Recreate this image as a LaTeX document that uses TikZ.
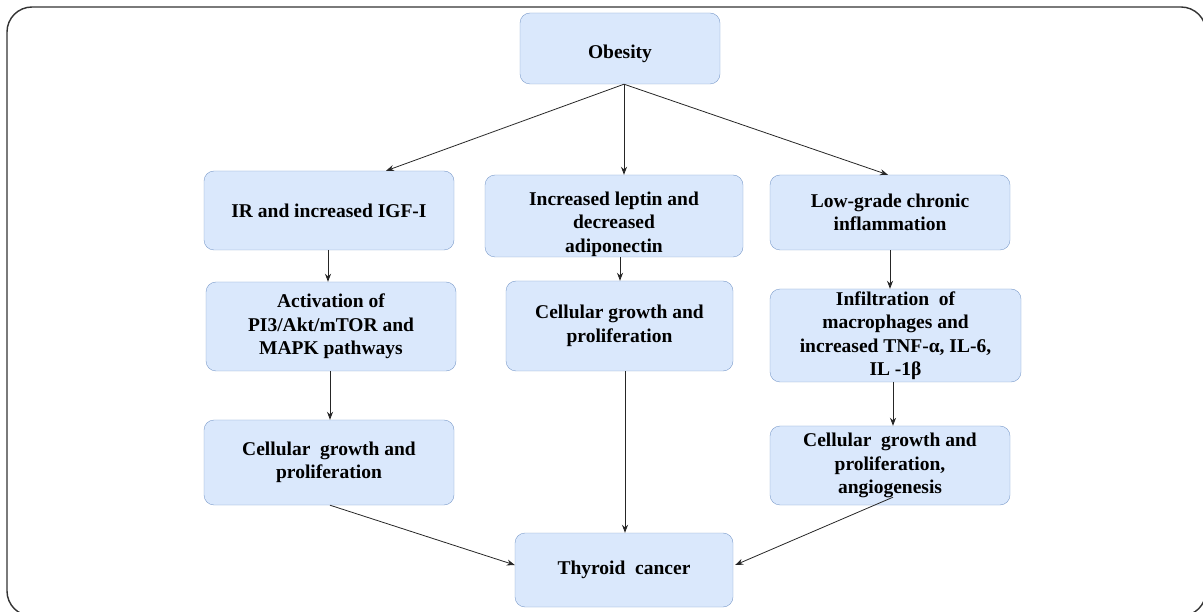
\documentclass[tikz,border=0pt]{standalone}
\usepackage{fontspec}
\setmainfont{Liberation Serif}
\usetikzlibrary{arrows.meta}
\begin{document}
\begin{tikzpicture}[
        x=1pt, y=-1pt,
        box/.style={draw=boxline, fill=boxfill, rounded corners=10pt, align=center, inner sep=0pt, font=\fontsize{19.5}{23.5}\selectfont\bfseries},
        link/.style={-{Stealth[length=8pt,width=6pt]}, line width=0.8pt, draw=black!85},
    ]
        \definecolor{boxfill}{HTML}{DAE8FC}
        \definecolor{boxline}{HTML}{7C9CCB}
        \useasboundingbox (0,0) rectangle (1203,612);
        % frame
        \draw[line width=1.4pt, draw=black!80, rounded corners=25pt] (7,7) rectangle (1206,616);

        % top
        \node[box, minimum width=200pt, minimum height=71pt] (obesity) at (620,48.5) {\mbox{}\\[1.5pt]Obesity};

        % three branches
        \node[box, minimum width=250pt, minimum height=79pt] (irigf) at (329,210.5) {IR and increased IGF-I};
        \node[box, minimum width=258pt, minimum height=82pt] (leptin) at (614,216) {\mbox{}\\[6.5pt]Increased leptin and\\decreased\\adiponectin};
        \node[box, minimum width=240pt, minimum height=75pt] (inflam) at (890,212.5) {Low-grade chronic\\inflammation};

        % second row
        \node[box, minimum width=250pt, minimum height=89pt] (pathways) at (331,326.5) {Activation of\\PI3/Akt/mTOR and\\MAPK pathways};
        \node[box, minimum width=227pt, minimum height=90pt] (growthmid) at (619.5,326) {Cellular growth and\\proliferation};
        \node[box, minimum width=251pt, minimum height=93pt] (macro) at (895.5,335.5) {Infiltration\ \ of\\macrophages and\\increased TNF-α, IL-6,\\IL -1β};

        % third row
        \node[box, minimum width=250pt, minimum height=85pt] (growthleft) at (329,462.5) {Cellular\ \ growth and\\proliferation};
        \node[box, minimum width=240pt, minimum height=79pt] (growthright) at (890,465.5) {Cellular\ \ growth and\\proliferation,\\angiogenesis};

        % bottom
        \node[box, minimum width=218pt, minimum height=74pt] (cancer) at (624,570) {Thyroid\ \ cancer};

        \draw[link] ([xshift=4pt]obesity.south) -- ([xshift=57pt]irigf.north);
        \draw[link] ([xshift=4pt]obesity.south) -- ([xshift=10pt]leptin.north);
        \draw[link] ([xshift=4pt]obesity.south) -- ([xshift=-2pt]inflam.north);
        \draw[link] ([xshift=-1pt]irigf.south) -- ([xshift=-3pt]pathways.north);
        \draw[link] ([xshift=6pt]leptin.south) -- ([xshift=0.5pt]growthmid.north);
        \draw[link] (inflam.south) -- ([xshift=-5.5pt]macro.north);
        \draw[link] ([xshift=-1pt]pathways.south) -- ([xshift=1pt]growthleft.north);
        \draw[link] ([xshift=-2.5pt]macro.south) -- ([xshift=3pt]growthright.north);
        \draw[link] ([xshift=1pt]growthleft.south) -- ([yshift=5pt]cancer.west);
        \draw[link] ([xshift=5.5pt]growthmid.south) -- ([xshift=1pt]cancer.north);
        \draw[link] ([xshift=3pt,yshift=8pt]growthright.south) -- ([xshift=2pt,yshift=5pt]cancer.east);
\end{tikzpicture}
\end{document}
